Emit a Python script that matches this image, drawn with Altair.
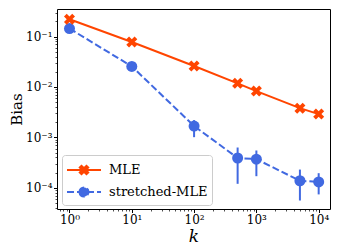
import altair as alt
import pandas as pd

# ---- data ----
k = [1, 10, 100, 500, 1000, 5000, 10000]
mle = [0.22, 0.078, 0.026, 0.0118, 0.0083, 0.0038, 0.0029]
stretched = [0.144, 0.0256, 0.00168, 0.00039, 0.00037, 0.000138, 0.000131]
err_lo = [0.144, 0.0256, 0.00101, 0.00012, 0.00017, 0.000056, 0.000074]
err_hi = [0.144, 0.0256, 0.0022, 0.00063, 0.00055, 0.00023, 0.000195]
series = ["MLE", "stretched-MLE"]
colors = ["#ff4500", "#4169e1"]

x_domain = [0.63, 15200]
y_domain = [3.8e-5, 0.352]

sup = {"-4": "⁻⁴", "-3": "⁻³", "-2": "⁻²", "-1": "⁻¹", "0": "⁰",
       "1": "¹", "2": "²", "3": "³", "4": "⁴"}


def ticks(lo, hi):
    vals = []
    for e in range(-6, 6):
        for m in range(1, 10):
            v = m * 10.0 ** e
            if lo <= v <= hi:
                vals.append(v)
    return vals


x_ticks = ticks(*x_domain)
y_ticks = ticks(*y_domain)

rows = []
for i, kk in enumerate(k):
    rows.append({"k": kk, "bias": mle[i], "lo": mle[i], "hi": mle[i], "series": "MLE"})
    rows.append({"k": kk, "bias": stretched[i], "lo": err_lo[i], "hi": err_hi[i],
                 "series": "stretched-MLE"})
df = pd.DataFrame(rows)

FONT = "DejaVu Serif"
LOGE = "log(datum.value)/LN10"
IS_MAJOR = f"abs({LOGE} - round({LOGE})) < 0.001"


def label_expr():
    expr = "''"
    for e, s in sup.items():
        expr = f"round({LOGE}) == {e} ? '10{s}' : ({expr})"
    return f"{IS_MAJOR} ? ({expr}) : ''"


def axis(values, title_pad, **kw):
    return alt.Axis(
        values=values,
        labelExpr=label_expr(),
        grid=False,
        domain=False,
        tickSize={"condition": {"test": IS_MAJOR, "value": 3.5}, "value": 2},
        tickWidth={"condition": {"test": IS_MAJOR, "value": 1}, "value": 0.7},
        tickColor="black",
        labelColor="black",
        labelFont=FONT,
        labelFontSize=12,
        labelPadding=1.5,
        labelFlush=False,
        labelOverlap=False,
        labelBound=False,
        titleFont=FONT,
        titleColor="black",
        titleFontWeight="normal",
        titlePadding=title_pad,
        **kw,
    )


x = alt.X("k:Q", scale=alt.Scale(type="log", domain=x_domain, nice=False),
          axis=axis(x_ticks, 3, titleFontSize=17, titleFontStyle="italic"), title="k")
y = alt.Y("bias:Q", scale=alt.Scale(type="log", domain=y_domain, nice=False),
          axis=axis(y_ticks, 1, titleFontSize=15), title="Bias")

# marker paths
X_DATA = "M-1,-0.5L-0.5,-1L0,-0.5L0.5,-1L1,-0.5L0.5,0L1,0.5L0.5,1L0,0.5L-0.5,1L-1,0.5L-0.5,0Z"


def x_leg(cx=0.7, a=0.42, d=0.17):
    p = [(cx - a, -a + d), (cx - a + d, -a), (cx, -d), (cx + a - d, -a), (cx + a, -a + d),
         (cx + d, 0), (cx + a, a - d), (cx + a - d, a), (cx, d), (cx - a + d, a),
         (cx - a, a - d), (cx - d, 0)]
    return "M" + "L".join(f"{px:.3f},{py:.3f}" for px, py in p) + "Z"


LINE = "M-1,0L2.4,0"
LEG_MLE = LINE + x_leg()
LEG_STR = LINE + "M0.25,0A0.45,0.45 0 1,1 1.15,0A0.45,0.45 0 1,1 0.25,0Z"
IS_MLE = "datum.value === 'MLE'"

legend = alt.Legend(
    title=None,
    orient="none",
    legendX=5,
    legendY=146,
    padding=4,
    rowPadding=2,
    symbolSize=400,
    symbolType={"expr": f"{IS_MLE} ? '{LEG_MLE}' : '{LEG_STR}'"},
    symbolDash={"expr": f"{IS_MLE} ? [] : [7, 3]"},
    symbolFillColor={"expr": f"{IS_MLE} ? '{colors[0]}' : '{colors[1]}'"},
    symbolStrokeColor={"expr": f"{IS_MLE} ? '{colors[0]}' : '{colors[1]}'"},
    symbolStrokeWidth=2,
    symbolOpacity=1,
    labelOffset=21,
    labelFont=FONT,
    labelFontSize=13,
    labelColor="black",
    strokeColor="#cccccc",
    cornerRadius=3,
    fillColor="rgba(255,255,255,0.85)",
)

color = alt.Color("series:N", scale=alt.Scale(domain=series, range=colors), legend=legend)

base = alt.Chart(df)
mle_base = base.transform_filter("datum.series === 'MLE'")
str_base = base.transform_filter("datum.series === 'stretched-MLE'")

errs = str_base.mark_rule(strokeWidth=2).encode(
    x=x, y=alt.Y("lo:Q", scale=alt.Scale(type="log", domain=y_domain, nice=False)), y2="hi:Q",
    color=color,
)
line_mle = mle_base.mark_line(strokeWidth=2).encode(x=x, y=y, color=color)
line_str = str_base.mark_line(strokeWidth=2, strokeDash=[7, 3]).encode(x=x, y=y, color=color)
pts_mle = mle_base.mark_point(filled=True, opacity=1, size=121, shape=X_DATA).encode(
    x=x, y=y, color=color)
pts_str = str_base.mark_point(filled=True, opacity=1, size=121, shape="circle").encode(
    x=x, y=y, color=color)

chart = alt.layer(errs, line_str, line_mle, pts_str, pts_mle).properties(
    width=273, height=200,
    padding={"left": 49, "top": 1, "right": 1, "bottom": 38},
    autosize="none",
).configure_view(stroke="black", strokeWidth=1)

chart.save("out.html", embed_options={"renderer": "svg", "actions": False})
